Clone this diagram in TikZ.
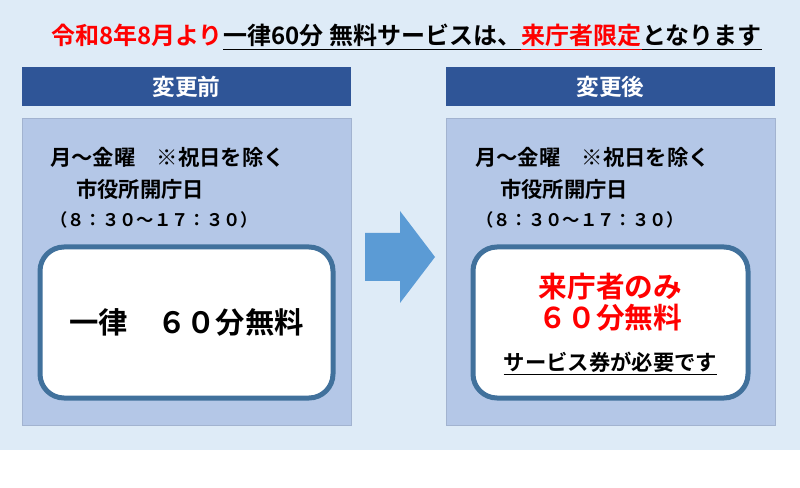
\documentclass[tikz,border=0pt]{standalone}
\usepackage{fontspec}
\setmainfont{Noto Sans CJK JP}[BoldFont={Noto Sans CJK JP Bold}]
\usetikzlibrary{positioning}
\definecolor{bgblue}{HTML}{DEEBF7}
\definecolor{panelblue}{HTML}{B4C7E7}
\definecolor{headblue}{HTML}{2F5597}
\definecolor{boxline}{HTML}{41719C}
\definecolor{arrowblue}{HTML}{5B9BD5}
\newcommand{\fs}[1]{\fontsize{#1}{#1}\selectfont\bfseries}
\tikzset{
	panel/.style={fill=panelblue, draw=panelblue!90!black, line width=0.5pt, minimum width=246.75pt, minimum height=230.25pt, inner sep=0pt},
	headbox/.style={fill=headblue, text=white, minimum width=246.75pt, minimum height=29.25pt, inner sep=0pt, font=\fs{17pt}},
	whitebox/.style={fill=white, draw=boxline, line width=3.75pt, rounded corners=18pt, minimum height=113.25pt, inner sep=0pt},
	txt/.style={inner sep=0pt, anchor=west, font=\fs{16pt}},
	titletxt/.style={inner sep=0pt, font=\fs{18pt}}
}
\begin{document}
\begin{tikzpicture}[x=0.75pt, y=-0.75pt]
				\useasboundingbox (0,0) rectangle (800,488);
				\fill[bgblue] (0,0) rectangle (800,450);
				\node[titletxt, text=red] (t1) at (137,35) {令和8年8月より};
				\node[titletxt, base right=0pt of t1] (t2) {一律60分 無料サービスは、};
				\node[titletxt, text=red, base right=0pt of t2] (t3) {来庁者限定};
				\node[titletxt, base right=0pt of t3] (t4) {となります};
				\draw[line width=0.9pt] ([yshift=-4pt]t2.base west) -- ([yshift=-4pt]t3.base west);
				\draw[line width=0.9pt, red] ([yshift=-4pt]t3.base west) -- ([yshift=-4pt]t3.base east);
				\draw[line width=0.9pt] ([yshift=-4pt]t4.base west) -- ([yshift=-4pt]t4.base east);
				\node[headbox] (oldhead) at (186.5,86.5) {変更前};
				\node[headbox] (newhead) at (610.5,86.5) {変更後};
				\node[panel] (oldpanel) at (186.5,271.5) {};
				\node[panel] (newpanel) at (610.5,271.5) {};
				\begin{scope}[txt]
					\node (olddays) at (50,157) {月～金曜　※祝日を除く};
					\node (oldopen) at (76,189) {市役所開庁日};
					\node[font=\fs{13pt}] (oldtime) at (50,220) {（８：３０～１７：３０）};
					\node (newdays) at (475,157) {月～金曜　※祝日を除く};
					\node (newopen) at (500,189) {市役所開庁日};
					\node[font=\fs{13pt}] (newtime) at (476,220) {（８：３０～１７：３０）};
				\end{scope}
				\node[whitebox, minimum width=219.75pt] (oldbox) at (186.5,322.5) {};
				\node[whitebox, minimum width=206.25pt] (newbox) at (610.5,322.5) {};
				\node[inner sep=0pt, font=\fs{22pt}] (oldfree) at (oldbox) {一律　６０分無料};
				\node[inner sep=0pt, font=\fs{21.5pt}, text=red] (newonly) at (610.5,287) {来庁者のみ};
				\node[inner sep=0pt, font=\fs{21.5pt}, text=red] (newfree) at (610.5,318) {６０分無料};
				\node[inner sep=0pt, font=\fs{16pt}] (ticket) at (610.5,362) {サービス券が必要です};
				\draw[line width=0.8pt] ([yshift=-3pt]ticket.base west) -- ([yshift=-3pt]ticket.base east);
				\fill[arrowblue] (365,233) -- (400,233) -- (400,211) -- (435,257) -- (400,303) -- (400,281) -- (365,281) -- cycle;
			\end{tikzpicture}
\end{document}
